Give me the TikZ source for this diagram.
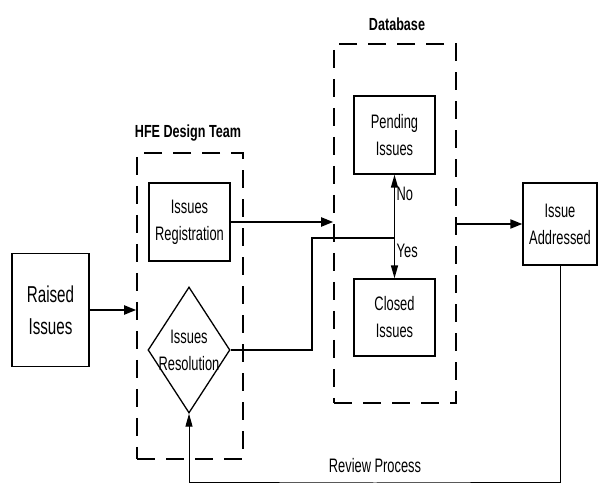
\documentclass[tikz,border=0pt]{standalone}
\usepackage{fontspec}
\usetikzlibrary{shapes.geometric,arrows.meta}

\newfontfamily\boxfont[FakeStretch=0.66]{Liberation Sans}
\newfontfamily\headfont[FakeStretch=0.72]{Liberation Sans}

\tikzset{
  process/.style={draw, line width=1.3pt, align=center, inner sep=0pt,
    minimum width=81pt, minimum height=78pt,
    font=\boxfont\fontsize{19.5}{27}\selectfont},
  decision/.style={draw, shape=diamond, line width=1.3pt, inner sep=0pt,
    minimum width=82pt, minimum height=126pt},
  group/.style={draw, line width=1.6pt, dash pattern=on 18pt off 11pt, inner sep=0pt},
  heading/.style={font=\headfont\bfseries\fontsize{17.5}{20}\selectfont},
  small/.style={font=\boxfont\fontsize{19.5}{22}\selectfont, inner sep=1.5pt},
  flow/.style={line width=2pt, -{Triangle[length=12pt,width=9pt]}},
  link/.style={line width=2pt},
  branch/.style={line width=1.4pt, -{Triangle[length=13pt,width=7pt]}},
  feedback/.style={line width=1pt, -{Triangle[length=13pt,width=7pt]}}
}

\begin{document}
\begin{tikzpicture}[x=1pt,y=-1pt]
    \useasboundingbox (0,0) rectangle (598,486);

    % Dashed groups and their titles
    \node[group, minimum width=106pt, minimum height=306pt] (hfe) at (190,306) {};
    \node[group, minimum width=122pt, minimum height=359pt] (db) at (395,223.5) {};
    \node[heading] (hfelbl) at (188,133) {HFE Design Team};
    \node[heading] (dblbl) at (397,24) {Database};

    % Boxes
    \node[process, minimum width=77pt, minimum height=113pt,
          font=\boxfont\fontsize{23}{32}\selectfont] (raised) at (50.5,310) {Raised\\Issues};
    \node[process] (reg) at (189.5,222) {Issues\\Registration};
    \node[decision, label={[small, align=center, font=\boxfont\fontsize{19.5}{27}\selectfont]center:Issues\\Resolution}] (resol) at (189,350) {};
    \node[process] (pend) at (394.5,135) {Pending\\Issues};
    \node[process, minimum height=77pt] (closed) at (394.5,317.5) {Closed\\Issues};
    \node[process, minimum width=74pt, minimum height=82pt] (addr) at (560,224) {Issue\\Addressed};

    % Helper points
    \coordinate (bend) at (312,238);
    \coordinate (split) at (394.5,238);
    \coordinate (base) at (375,483);

    % Connectors
    \draw[flow] (raised.east) -- (raised.east -| hfe.west);
    \draw[flow] (reg.east) -- (reg.east -| db.west);
    \draw[flow] (db.east) -- (db.east |- addr.west) -- (addr.west);
    \draw[link] (resol.east) -| (bend) -- (split);
    \draw[branch] (split) -- node[small, right, pos=0.7] {No} (pend.south);
    \draw[branch] (split) -- node[small, right, pos=0.32] {Yes} (closed.north);

    % Review loop
    \draw[feedback] (addr.south) |- (base) -| (resol.south);
    \node[small] (review) at (375,466) {Review Process};

\end{tikzpicture}
\end{document}
